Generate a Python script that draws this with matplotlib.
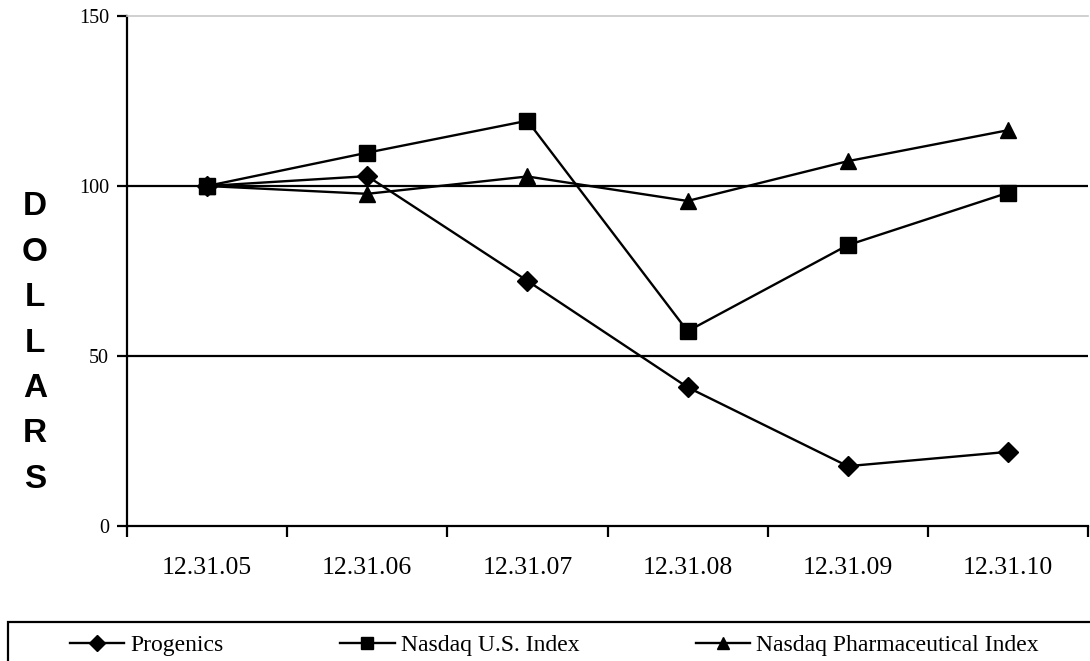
import numpy as np
import matplotlib
matplotlib.use('Agg')
import matplotlib.pyplot as plt
from matplotlib.patches import Rectangle

dates = ['12.31.05', '12.31.06', '12.31.07', '12.31.08', '12.31.09', '12.31.10']
progenics = [100, 102.9, 72.1, 40.8, 17.6, 21.8]
nasdaq_us = [100, 109.8, 119.2, 57.3, 82.6, 98.0]
nasdaq_pharma = [100, 97.7, 102.8, 95.6, 107.3, 116.4]
yticks = [0, 50, 100, 150]

serif = 'Liberation Serif'
W, H = 1090, 661
fig = plt.figure(figsize=(W / 100, H / 100), dpi=100)
ax = fig.add_axes([127 / W, (H - 526) / H, (1088 - 127) / W, (526 - 16) / H])

x = np.arange(len(dates))
lw = 1.7
ax.plot(x, progenics, color='black', lw=lw, marker='D', ms=10, label='Progenics')
ax.plot(x, nasdaq_us, color='black', lw=lw, marker='s', ms=11, label='Nasdaq U.S. Index')
ax.plot(x, nasdaq_pharma, color='black', lw=lw, marker='^', ms=11, label='Nasdaq Pharmaceutical Index')

for v in [50, 100]:
    ax.axhline(v, color='black', lw=1.6, zorder=1)

ax.set_xlim(-0.5, len(dates) - 0.5)
ax.set_ylim(0, 150)

# category boundaries carry the tick marks, labels sit in between
ax.set_xticks(np.arange(len(dates) + 1) - 0.5)
ax.set_xticklabels([])
ax.set_xticks(x, minor=True)
ax.set_xticklabels(dates, minor=True, fontfamily=serif, fontsize=18.5)
ax.tick_params(axis='x', which='major', length=8, width=1.6, direction='out')
ax.tick_params(axis='x', which='minor', length=0, pad=22)

ax.set_yticks(yticks)
ax.set_yticklabels([str(t) for t in yticks], fontfamily=serif, fontsize=14.5)
ax.tick_params(axis='y', length=7, width=1.6, direction='out', pad=6)

ax.spines['right'].set_visible(False)
ax.spines['top'].set_color('#c8c8c8')
ax.spines['top'].set_linewidth(1.2)
ax.spines['left'].set_linewidth(1.6)
ax.spines['bottom'].set_linewidth(1.6)

fig.text(35 / W, 1 - 343 / H, '\n'.join('DOLLARS'), ha='center', va='center',
         fontfamily='Liberation Sans', fontweight='bold', fontsize=24, linespacing=1.6)

# legend box running off the page edge
fig.patches.append(Rectangle((8 / W, -0.1), 1.2, (H - 622) / H + 0.1, transform=fig.transFigure,
                             fill=False, edgecolor='black', lw=1.6))
leg = fig.legend(loc='center left', bbox_to_anchor=(70 / W, 1 - 645 / H), ncol=3, frameon=False,
                 prop={'family': serif, 'size': 17}, handlelength=2.3, handletextpad=0.25,
                 columnspacing=4.95, borderpad=0, borderaxespad=0, markerscale=0.8)

fig.savefig('out.png', dpi=100)
